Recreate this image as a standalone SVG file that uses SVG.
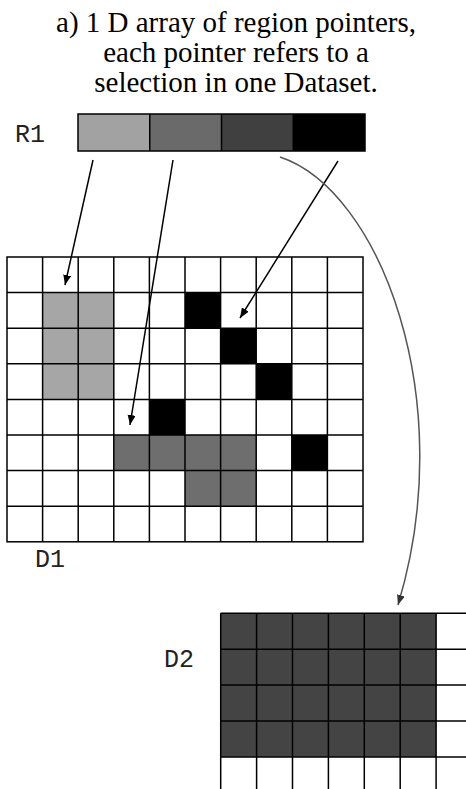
<svg xmlns="http://www.w3.org/2000/svg" width="466" height="789" viewBox="0 0 466 789">
  <style>
    .title { font-family: "Liberation Serif", "Times New Roman", serif; font-size: 29px; fill: #000; text-anchor: middle; }
    .mono { font-family: "Liberation Mono", "Courier New", monospace; font-size: 25px; fill: #222; }
    .grid { fill: none; stroke: #000; stroke-width: 1.5; }
    .arrow { fill: none; stroke: #000; stroke-width: 1.5; }
    .curve { fill: none; stroke: #555; stroke-width: 1.5; }
  </style>
  <defs>
    <marker id="ah" markerUnits="userSpaceOnUse" markerWidth="12" markerHeight="10" refX="10" refY="4" orient="auto">
      <path d="M0,0 L10,4 L0,8 Z" fill="#000"/>
    </marker>
    <marker id="ahg" markerUnits="userSpaceOnUse" markerWidth="12" markerHeight="10" refX="10" refY="4" orient="auto">
      <path d="M0,0 L10,4 L0,8 Z" fill="#333"/>
    </marker>
  </defs>
  <rect width="466" height="789" fill="#fff"/>

  <g id="title">
    <text class="title" x="236" y="32">a) 1 D array of region pointers,</text>
    <text class="title" x="236" y="62">each pointer refers to a</text>
    <text class="title" x="236" y="92">selection in one Dataset.</text>
  </g>

  <g id="R1">
    <text class="mono" x="15" y="142">R1</text>
    <rect x="78" y="114" width="71.75" height="37" fill="#a2a2a2"/>
    <rect x="149.75" y="114" width="71.75" height="37" fill="#6a6a6a"/>
    <rect x="221.5" y="114" width="71.75" height="37" fill="#404040"/>
    <rect x="293.25" y="114" width="71.75" height="37" fill="#000"/>
    <rect x="78" y="114" width="287" height="37" class="grid"/>
    <path class="grid" d="M149.75,114V151M221.5,114V151M293.25,114V151"/>
  </g>

  <g id="D1">
    <rect x="42.6" y="292.6" width="71.2" height="106.8" fill="#a6a6a6"/>
    <rect x="113.8" y="435" width="142.4" height="35.6" fill="#6e6e6e"/>
    <rect x="185" y="470.6" width="71.2" height="35.6" fill="#6e6e6e"/>
    <rect x="185" y="292.6" width="35.6" height="35.6" fill="#000"/>
    <rect x="220.6" y="328.2" width="35.6" height="35.6" fill="#000"/>
    <rect x="256.2" y="363.8" width="35.6" height="35.6" fill="#000"/>
    <rect x="149.4" y="399.4" width="35.6" height="35.6" fill="#000"/>
    <rect x="291.8" y="435" width="35.6" height="35.6" fill="#000"/>
    <rect class="grid" x="7" y="257" width="356" height="284.8"/>
    <path class="grid" d="M42.6,257V541.8M78.2,257V541.8M113.8,257V541.8M149.4,257V541.8M185,257V541.8M220.6,257V541.8M256.2,257V541.8M291.8,257V541.8M327.4,257V541.8
      M7,292.6H363M7,328.2H363M7,363.8H363M7,399.4H363M7,435H363M7,470.6H363M7,506.2H363"/>
    <text class="mono" x="35" y="567">D1</text>
  </g>

  <g id="D2">
    <rect x="220.7" y="613.3" width="215.4" height="143.6" fill="#444"/>
    <path class="grid" d="M220.7,613.3H466M220.7,649.2H466M220.7,685.1H466M220.7,721H466M220.7,756.9H466
      M220.7,613.3V789M256.6,613.3V789M292.5,613.3V789M328.4,613.3V789M364.3,613.3V789M400.2,613.3V789M436.1,613.3V789"/>
    <text class="mono" x="164" y="667">D2</text>
  </g>

  <g id="connectors">
    <line class="arrow" x1="93" y1="160" x2="65" y2="285" marker-end="url(#ah)"/>
    <line class="arrow" x1="173" y1="160" x2="130" y2="425" marker-end="url(#ah)"/>
    <line class="arrow" x1="338" y1="161" x2="240" y2="318" marker-end="url(#ah)"/>
    <path class="curve" d="M280,157 C380,190 460,400 398,605" marker-end="url(#ahg)"/>
  </g>
</svg>
